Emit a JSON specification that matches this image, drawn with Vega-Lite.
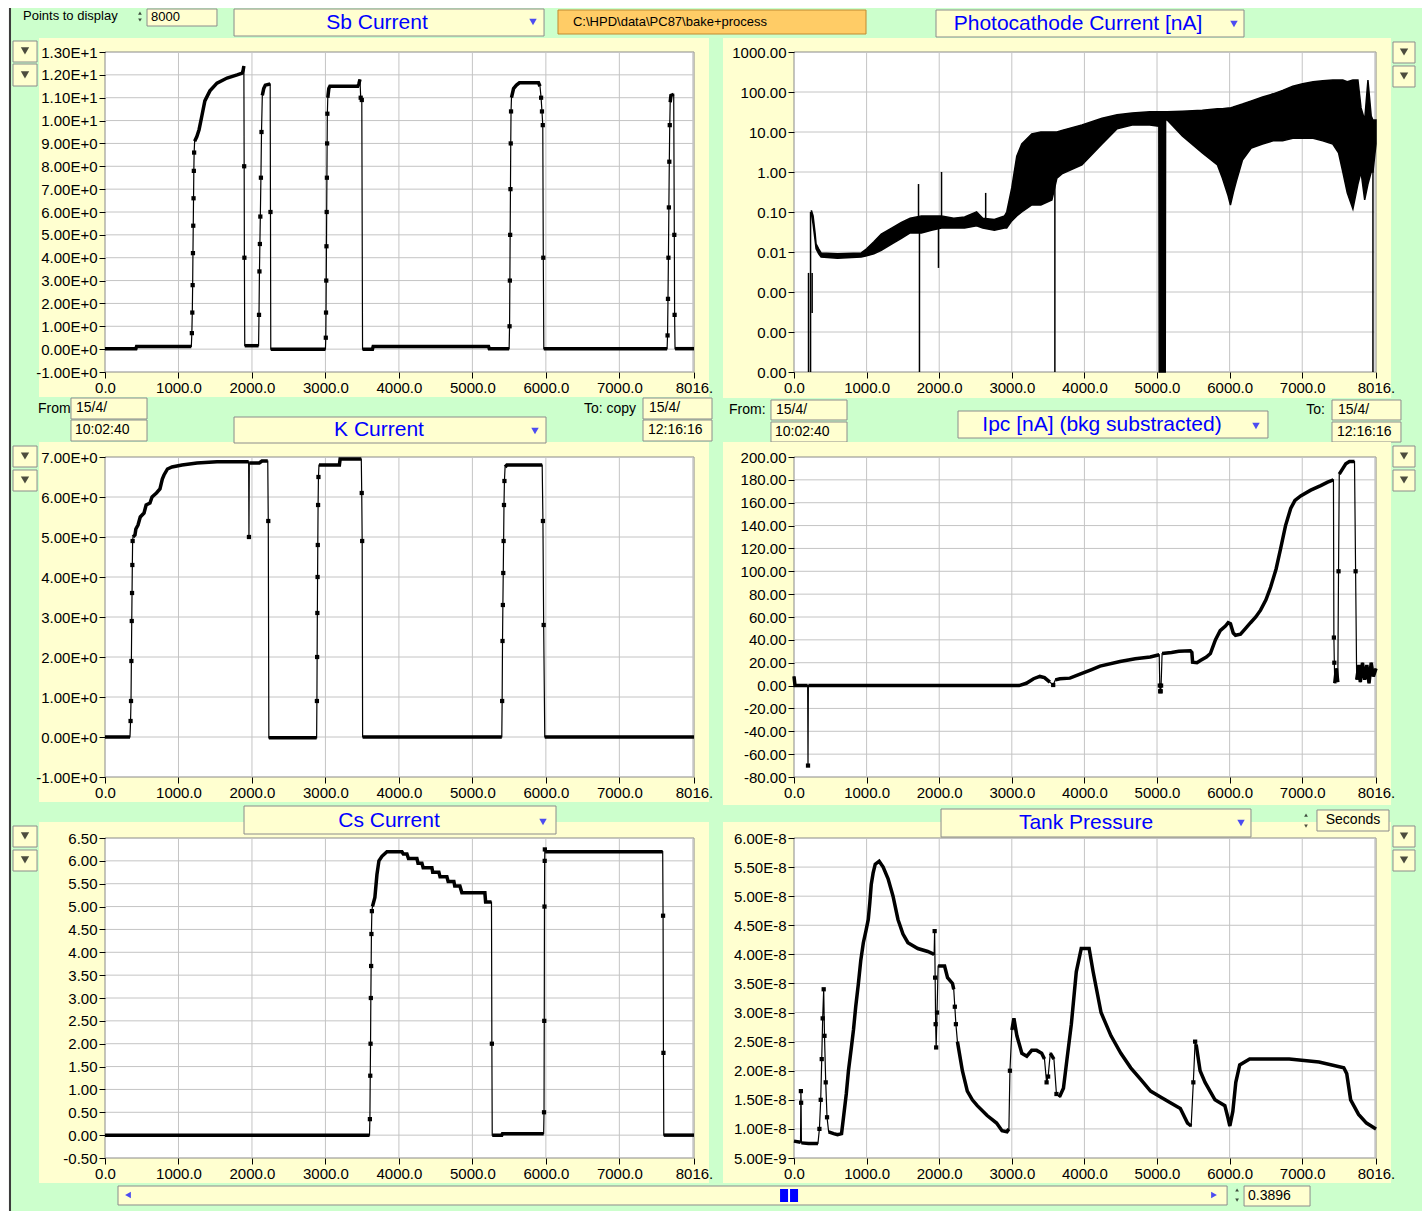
{
  "$schema": "https://vega.github.io/schema/vega-lite/v6.json",
  "background": "white",
  "padding": {"left": 8, "top": 8, "right": 0, "bottom": 0},
  "autosize": {"type": "pad"},
  "config": {
    "view": {"stroke": null},
    "axis": {"grid": false, "domain": false, "labelFont": "Liberation Sans", "labelFontSize": 15, "labelColor": "#000000", "tickColor": "#000000", "tickSize": 6, "tickWidth": 1, "labelPadding": 2, "labelOverlap": false, "labelFlush": false, "labelBound": false},
    "text": {"font": "Liberation Sans"}
  },
  "datasets": {
    "gx": [{"g":1000},{"g":2000},{"g":3000},{"g":4000},{"g":5000},{"g":6000},{"g":7000},{"g":8000}],
    "gy_sb": [{"g":0},{"g":1},{"g":2},{"g":3},{"g":4},{"g":5},{"g":6},{"g":7},{"g":8},{"g":9},{"g":10},{"g":11},{"g":12}],
    "gy_k": [{"g":0},{"g":1},{"g":2},{"g":3},{"g":4},{"g":5},{"g":6}],
    "gy_cs": [{"g":0},{"g":0.5},{"g":1},{"g":1.5},{"g":2},{"g":2.5},{"g":3},{"g":3.5},{"g":4},{"g":4.5},{"g":5},{"g":5.5},{"g":6}],
    "gy_ipc": [{"g":-60},{"g":-40},{"g":-20},{"g":0},{"g":20},{"g":40},{"g":60},{"g":80},{"g":100},{"g":120},{"g":140},{"g":160},{"g":180}],
    "gy_pc": [{"g":0.0001},{"g":0.001},{"g":0.01},{"g":0.1},{"g":1},{"g":10},{"g":100}],
    "gy_tank": [{"g":1e-8},{"g":1.5e-8},{"g":2e-8},{"g":2.5e-8},{"g":3e-8},{"g":3.5e-8},{"g":4e-8},{"g":4.5e-8},{"g":5e-8},{"g":5.5e-8}],
    "sb": [
      {"t":0,"v":0.02,"step":0},{"t":420,"v":0.02,"step":0},{"t":430,"v":0.12,"step":0},{"t":1175,"v":0.12,"step":0},
      {"t":1182,"v":0.7},{"t":1188,"v":1.6},{"t":1193,"v":2.8},{"t":1197,"v":4.2},{"t":1201,"v":5.4},{"t":1205,"v":6.6},{"t":1209,"v":7.8},{"t":1213,"v":8.6},
      {"t":1220,"v":9.1,"step":1},{"t":1250,"v":9.3,"step":1},{"t":1280,"v":9.6,"step":1},{"t":1318,"v":10.2,"step":1},{"t":1359,"v":10.86,"step":1},{"t":1428,"v":11.3,"step":1},{"t":1524,"v":11.64,"step":1},{"t":1661,"v":11.86,"step":1},{"t":1798,"v":12.0,"step":1},{"t":1867,"v":12.08,"step":1},{"t":1880,"v":12.2,"step":1},{"t":1890,"v":12.39,"step":1},
      {"t":1894,"v":8.0},{"t":1897,"v":4.0},
      {"t":1902,"v":0.15,"step":2},{"t":2090,"v":0.15,"step":2},
      {"t":2096,"v":1.5},{"t":2102,"v":3.4},{"t":2108,"v":4.6},{"t":2114,"v":5.8},{"t":2122,"v":7.5},{"t":2130,"v":9.5},
      {"t":2141,"v":11.1,"step":3},{"t":2160,"v":11.4,"step":3},{"t":2182,"v":11.55,"step":3},{"t":2248,"v":11.6,"step":3},
      {"t":2252,"v":6.0},
      {"t":2256,"v":0.0,"step":4},{"t":3000,"v":0.0,"step":4},
      {"t":3005,"v":0.5},{"t":3008,"v":1.6},{"t":3011,"v":3.0},{"t":3014,"v":4.5},{"t":3017,"v":6.0},{"t":3020,"v":7.5},{"t":3023,"v":9.0},{"t":3026,"v":10.3},
      {"t":3032,"v":11.0,"step":5},{"t":3046,"v":11.4,"step":5},{"t":3061,"v":11.5,"step":5},{"t":3440,"v":11.5,"step":5},{"t":3455,"v":11.6,"step":5},{"t":3470,"v":11.8,"step":5},
      {"t":3480,"v":11.0},{"t":3495,"v":10.9},
      {"t":3505,"v":0.0,"step":6},{"t":3640,"v":0.0,"step":6},{"t":3650,"v":0.12,"step":6},{"t":5220,"v":0.12,"step":6},{"t":5230,"v":0.02,"step":6},{"t":5500,"v":0.02,"step":6},
      {"t":5506,"v":1.0},{"t":5510,"v":3.0},{"t":5514,"v":5.0},{"t":5518,"v":7.0},{"t":5522,"v":9.0},{"t":5526,"v":10.4},
      {"t":5532,"v":11.0,"step":7},{"t":5560,"v":11.4,"step":7},{"t":5600,"v":11.55,"step":7},{"t":5640,"v":11.65,"step":7},{"t":5900,"v":11.65,"step":7},{"t":5920,"v":11.5,"step":7},
      {"t":5935,"v":11.0},{"t":5947,"v":10.4},{"t":5958,"v":9.8},{"t":5965,"v":4.0},
      {"t":5972,"v":0.02,"step":8},{"t":7650,"v":0.02,"step":8},
      {"t":7656,"v":0.6},{"t":7662,"v":2.2},{"t":7668,"v":4.0},{"t":7674,"v":6.2},{"t":7680,"v":8.2},{"t":7686,"v":9.8},
      {"t":7692,"v":10.8,"step":9},{"t":7702,"v":11.1,"step":9},{"t":7740,"v":11.15,"step":9},
      {"t":7748,"v":5.0},{"t":7752,"v":1.5},
      {"t":7758,"v":0.02,"step":10},{"t":8016,"v":0.02,"step":10}
    ],
    "k": [
      {"t":0,"v":0.0,"step":0},{"t":340,"v":0.0,"step":0},
      {"t":348,"v":0.4},{"t":354,"v":0.9},{"t":359,"v":1.9},{"t":364,"v":2.9},{"t":368,"v":3.6},{"t":372,"v":4.3},{"t":376,"v":4.9},
      {"t":381,"v":5.0,"step":1},{"t":408,"v":5.05,"step":1},{"t":420,"v":5.2,"step":1},{"t":449,"v":5.3,"step":1},{"t":480,"v":5.5,"step":1},{"t":531,"v":5.6,"step":1},{"t":560,"v":5.8,"step":1},{"t":612,"v":5.85,"step":1},{"t":640,"v":6.0,"step":1},{"t":700,"v":6.1,"step":1},{"t":748,"v":6.2,"step":1},{"t":780,"v":6.45,"step":1},{"t":803,"v":6.55,"step":1},{"t":850,"v":6.7,"step":1},{"t":912,"v":6.75,"step":1},{"t":1048,"v":6.8,"step":1},{"t":1252,"v":6.85,"step":1},{"t":1524,"v":6.88,"step":1},{"t":1955,"v":6.88,"step":1},
      {"t":1959,"v":5.0},
      {"t":1964,"v":6.85,"step":2},{"t":2100,"v":6.85,"step":2},{"t":2136,"v":6.9,"step":2},{"t":2215,"v":6.9,"step":2},
      {"t":2222,"v":5.4},
      {"t":2230,"v":-0.02,"step":3},{"t":2880,"v":-0.02,"step":3},
      {"t":2884,"v":0.9},{"t":2887,"v":2.0},{"t":2890,"v":3.1},{"t":2893,"v":4.0},{"t":2896,"v":4.8},{"t":2900,"v":5.8},{"t":2905,"v":6.5},
      {"t":2912,"v":6.8,"step":4},{"t":3190,"v":6.8,"step":4},{"t":3200,"v":6.95,"step":4},{"t":3488,"v":6.95,"step":4},
      {"t":3494,"v":6.1},{"t":3500,"v":4.9},
      {"t":3506,"v":0.0,"step":5},{"t":5400,"v":0.0,"step":5},
      {"t":5405,"v":0.9},{"t":5410,"v":2.4},{"t":5415,"v":3.3},{"t":5420,"v":4.1},{"t":5425,"v":4.9},{"t":5430,"v":5.8},{"t":5436,"v":6.4},
      {"t":5445,"v":6.75,"step":6},{"t":5470,"v":6.8,"step":6},{"t":5950,"v":6.8,"step":6},
      {"t":5960,"v":5.4},{"t":5970,"v":2.8},
      {"t":5985,"v":0.0,"step":7},{"t":8016,"v":0.0,"step":7}
    ],
    "cs": [
      {"t":0,"v":0.0,"step":0},{"t":3600,"v":0.0,"step":0},
      {"t":3605,"v":0.35},{"t":3610,"v":1.3},{"t":3614,"v":2.0},{"t":3618,"v":3.0},{"t":3622,"v":3.7},{"t":3626,"v":4.4},{"t":3632,"v":4.9},
      {"t":3640,"v":5.0,"step":1},{"t":3673,"v":5.2,"step":1},{"t":3701,"v":5.7,"step":1},{"t":3728,"v":6.0,"step":1},{"t":3769,"v":6.1,"step":1},{"t":3837,"v":6.2,"step":1},{"t":4041,"v":6.2,"step":1},{"t":4060,"v":6.15,"step":1},{"t":4109,"v":6.15,"step":1},{"t":4130,"v":6.05,"step":1},{"t":4245,"v":6.05,"step":1},{"t":4260,"v":5.95,"step":1},{"t":4313,"v":5.95,"step":1},{"t":4330,"v":5.85,"step":1},{"t":4449,"v":5.85,"step":1},{"t":4460,"v":5.75,"step":1},{"t":4544,"v":5.75,"step":1},{"t":4560,"v":5.65,"step":1},{"t":4653,"v":5.65,"step":1},{"t":4670,"v":5.55,"step":1},{"t":4748,"v":5.55,"step":1},{"t":4760,"v":5.45,"step":1},{"t":4830,"v":5.45,"step":1},{"t":4857,"v":5.3,"step":1},{"t":5170,"v":5.3,"step":1},{"t":5180,"v":5.1,"step":1},{"t":5260,"v":5.1,"step":1},
      {"t":5265,"v":2.0},
      {"t":5270,"v":0.0,"step":2},{"t":5400,"v":0.0,"step":2},{"t":5410,"v":0.03,"step":2},{"t":5970,"v":0.03,"step":2},
      {"t":5975,"v":0.5},{"t":5978,"v":2.5},{"t":5981,"v":5.0},{"t":5984,"v":6.0},{"t":5986,"v":6.25},
      {"t":5990,"v":6.2,"step":3},{"t":7590,"v":6.2,"step":3},
      {"t":7595,"v":4.8},{"t":7600,"v":1.8},
      {"t":7605,"v":0.0,"step":4},{"t":8016,"v":0.0,"step":4}
    ],
    "ipc": [
      {"t":0,"v":8.0,"step":0},{"t":14,"v":0.0,"step":0},{"t":188,"v":0.0,"step":0},
      {"t":193,"v":-70.0},
      {"t":198,"v":0.0,"step":1},{"t":3100,"v":0.0,"step":1},{"t":3200,"v":2.0,"step":1},{"t":3300,"v":6.0,"step":1},{"t":3386,"v":8.0,"step":1},{"t":3450,"v":7.0,"step":1},{"t":3524,"v":3.0,"step":1},
      {"t":3570,"v":0.5},
      {"t":3600,"v":5.0,"step":2},{"t":3662,"v":6.0,"step":2},{"t":3800,"v":6.5,"step":2},{"t":3939,"v":10.0,"step":2},{"t":4100,"v":14.0,"step":2},{"t":4215,"v":17.0,"step":2},{"t":4491,"v":21.0,"step":2},{"t":4700,"v":23.5,"step":2},{"t":4906,"v":25.0,"step":2},{"t":5030,"v":27.0,"step":2},
      {"t":5038,"v":0.0},{"t":5044,"v":-5.0},{"t":5050,"v":-5.0},{"t":5056,"v":0.0},
      {"t":5070,"v":28.0,"step":3},{"t":5200,"v":29.0,"step":3},{"t":5300,"v":30.0,"step":3},{"t":5459,"v":30.5,"step":3},{"t":5480,"v":29.0,"step":3},{"t":5490,"v":20.5,"step":3},{"t":5550,"v":20.0,"step":3},{"t":5597,"v":22.0,"step":3},{"t":5680,"v":25.0,"step":3},{"t":5735,"v":28.0,"step":3},{"t":5804,"v":40.0,"step":3},{"t":5870,"v":48.0,"step":3},{"t":5942,"v":52.0,"step":3},{"t":5980,"v":55.0,"step":3},{"t":6012,"v":54.0,"step":3},{"t":6050,"v":46.0,"step":3},{"t":6081,"v":44.0,"step":3},{"t":6150,"v":45.0,"step":3},{"t":6220,"v":50.0,"step":3},{"t":6288,"v":55.0,"step":3},{"t":6360,"v":60.0,"step":3},{"t":6426,"v":66.0,"step":3},{"t":6500,"v":75.0,"step":3},{"t":6564,"v":86.0,"step":3},{"t":6640,"v":102.0,"step":3},{"t":6703,"v":120.0,"step":3},{"t":6770,"v":140.0,"step":3},{"t":6841,"v":155.0,"step":3},{"t":6900,"v":162.0,"step":3},{"t":6979,"v":166.0,"step":3},{"t":7117,"v":171.0,"step":3},{"t":7255,"v":175.0,"step":3},{"t":7350,"v":178.0,"step":3},{"t":7430,"v":180.0,"step":3},
      {"t":7436,"v":42.0},{"t":7442,"v":20.0},
      {"t":7448,"v":2.0,"step":4},{"t":7470,"v":15.0,"step":4},{"t":7490,"v":3.0,"step":4},
      {"t":7500,"v":100.0},
      {"t":7510,"v":185.0,"step":5},{"t":7560,"v":190.0,"step":5},{"t":7600,"v":194.0,"step":5},{"t":7650,"v":196.0,"step":5},{"t":7720,"v":196.0,"step":5},
      {"t":7735,"v":100.0},
      {"t":7750,"v":5.0,"step":6},{"t":7780,"v":18.0,"step":6},{"t":7800,"v":3.0,"step":6},{"t":7830,"v":20.0,"step":6},{"t":7860,"v":5.0,"step":6},{"t":7890,"v":18.0,"step":6},{"t":7920,"v":2.0,"step":6},{"t":7950,"v":20.0,"step":6},{"t":7980,"v":8.0,"step":6},{"t":8016,"v":15.0,"step":6}
    ],
    "tank": [
      {"t":0,"v":7.9e-9,"step":0},{"t":90,"v":7.7e-9,"step":0},
      {"t":95,"v":1.65e-8},{"t":98,"v":1.45e-8},
      {"t":102,"v":7.6e-9,"step":1},{"t":200,"v":7.5e-9,"step":1},{"t":330,"v":7.5e-9,"step":1},
      {"t":350,"v":1.0e-8},{"t":368,"v":1.5e-8},{"t":382,"v":2.2e-8},{"t":395,"v":2.9e-8},{"t":409,"v":3.4e-8},{"t":420,"v":2.6e-8},{"t":437,"v":1.8e-8},{"t":455,"v":1.2e-8},
      {"t":477,"v":9.5e-9,"step":2},{"t":546,"v":9.2e-9,"step":2},{"t":600,"v":9.0e-9,"step":2},{"t":655,"v":9.2e-9,"step":2},{"t":682,"v":1.2e-8,"step":2},{"t":720,"v":1.6e-8,"step":2},{"t":750,"v":2.0e-8,"step":2},{"t":790,"v":2.4e-8,"step":2},{"t":819,"v":2.7e-8,"step":2},{"t":850,"v":3.1e-8,"step":2},{"t":887,"v":3.5e-8,"step":2},{"t":920,"v":3.9e-8,"step":2},{"t":955,"v":4.2e-8,"step":2},{"t":990,"v":4.4e-8,"step":2},{"t":1023,"v":4.6e-8,"step":2},{"t":1045,"v":4.9e-8,"step":2},{"t":1064,"v":5.2e-8,"step":2},{"t":1090,"v":5.4e-8,"step":2},{"t":1119,"v":5.55e-8,"step":2},{"t":1173,"v":5.6e-8,"step":2},{"t":1228,"v":5.5e-8,"step":2},{"t":1296,"v":5.3e-8,"step":2},{"t":1364,"v":5.0e-8,"step":2},{"t":1432,"v":4.6e-8,"step":2},{"t":1501,"v":4.35e-8,"step":2},{"t":1569,"v":4.2e-8,"step":2},{"t":1705,"v":4.1e-8,"step":2},{"t":1842,"v":4.05e-8,"step":2},{"t":1930,"v":4.0e-8,"step":2},
      {"t":1937,"v":4.4e-8},{"t":1944,"v":3.6e-8},{"t":1951,"v":2.8e-8},{"t":1958,"v":2.4e-8},{"t":1970,"v":3.0e-8},
      {"t":1985,"v":3.8e-8,"step":3},{"t":2074,"v":3.8e-8,"step":3},{"t":2115,"v":3.6e-8,"step":3},{"t":2183,"v":3.5e-8,"step":3},{"t":2200,"v":3.4e-8,"step":3},
      {"t":2215,"v":3.1e-8},{"t":2230,"v":2.8e-8},
      {"t":2251,"v":2.5e-8,"step":4},{"t":2319,"v":2.0e-8,"step":4},{"t":2387,"v":1.65e-8,"step":4},{"t":2456,"v":1.5e-8,"step":4},{"t":2524,"v":1.4e-8,"step":4},{"t":2660,"v":1.23e-8,"step":4},{"t":2790,"v":1.1e-8,"step":4},{"t":2865,"v":9.7e-9,"step":4},{"t":2933,"v":9.5e-9,"step":4},{"t":2960,"v":1.0e-8,"step":4},
      {"t":2974,"v":2.0e-8},
      {"t":3001,"v":2.7e-8,"step":5},{"t":3029,"v":2.9e-8,"step":5},{"t":3070,"v":2.6e-8,"step":5},{"t":3138,"v":2.3e-8,"step":5},{"t":3206,"v":2.25e-8,"step":5},{"t":3274,"v":2.35e-8,"step":5},{"t":3342,"v":2.35e-8,"step":5},{"t":3411,"v":2.3e-8,"step":5},{"t":3450,"v":2.2e-8,"step":5},
      {"t":3479,"v":1.8e-8},{"t":3500,"v":1.9e-8},
      {"t":3530,"v":2.3e-8,"step":6},{"t":3580,"v":2.2e-8,"step":6},
      {"t":3615,"v":1.6e-8},
      {"t":3656,"v":1.55e-8,"step":7},{"t":3711,"v":1.7e-8,"step":7},{"t":3760,"v":2.2e-8,"step":7},{"t":3820,"v":2.8e-8,"step":7},{"t":3888,"v":3.7e-8,"step":7},{"t":3956,"v":4.1e-8,"step":7},{"t":4065,"v":4.1e-8,"step":7},{"t":4120,"v":3.7e-8,"step":7},{"t":4229,"v":3.0e-8,"step":7},{"t":4366,"v":2.6e-8,"step":7},{"t":4502,"v":2.3e-8,"step":7},{"t":4638,"v":2.05e-8,"step":7},{"t":4775,"v":1.85e-8,"step":7},{"t":4911,"v":1.65e-8,"step":7},{"t":5048,"v":1.55e-8,"step":7},{"t":5184,"v":1.45e-8,"step":7},{"t":5321,"v":1.35e-8,"step":7},{"t":5420,"v":1.1e-8,"step":7},{"t":5470,"v":1.05e-8,"step":7},
      {"t":5500,"v":1.8e-8},{"t":5525,"v":2.5e-8},
      {"t":5539,"v":2.45e-8,"step":8},{"t":5593,"v":2.0e-8,"step":8},{"t":5662,"v":1.8e-8,"step":8},{"t":5730,"v":1.65e-8,"step":8},{"t":5798,"v":1.5e-8,"step":8},{"t":5934,"v":1.4e-8,"step":8},{"t":5975,"v":1.2e-8,"step":8},{"t":6003,"v":1.05e-8,"step":8},{"t":6044,"v":1.3e-8,"step":8},{"t":6085,"v":1.8e-8,"step":8},{"t":6139,"v":2.1e-8,"step":8},{"t":6276,"v":2.2e-8,"step":8},{"t":6821,"v":2.2e-8,"step":8},{"t":7231,"v":2.15e-8,"step":8},{"t":7572,"v":2.05e-8,"step":8},{"t":7613,"v":1.95e-8,"step":8},{"t":7667,"v":1.5e-8,"step":8},{"t":7776,"v":1.25e-8,"step":8},{"t":7885,"v":1.1e-8,"step":8},{"t":8016,"v":1.0e-8,"step":8}
    ],
    "pc_band": [
      {"t":240,"lo":0.09,"hi":0.11},{"t":263,"lo":0.05,"hi":0.08},{"t":290,"lo":0.02,"hi":0.03},{"t":304,"lo":0.012,"hi":0.016},{"t":340,"lo":0.009,"hi":0.012},{"t":373,"lo":0.0075,"hi":0.0095},{"t":600,"lo":0.007,"hi":0.009},{"t":926,"lo":0.0075,"hi":0.0095},{"t":1000,"lo":0.008,"hi":0.012},{"t":1100,"lo":0.009,"hi":0.018},{"t":1202,"lo":0.011,"hi":0.028},{"t":1350,"lo":0.016,"hi":0.04},{"t":1479,"lo":0.022,"hi":0.055},{"t":1600,"lo":0.03,"hi":0.07},{"t":1755,"lo":0.03,"hi":0.08},{"t":1893,"lo":0.035,"hi":0.08},{"t":2032,"lo":0.04,"hi":0.08},{"t":2200,"lo":0.04,"hi":0.07},{"t":2350,"lo":0.04,"hi":0.075},{"t":2515,"lo":0.045,"hi":0.1},{"t":2600,"lo":0.04,"hi":0.07},{"t":2760,"lo":0.035,"hi":0.065},{"t":2900,"lo":0.04,"hi":0.08},{"t":2930,"lo":0.04,"hi":0.1},{"t":2999,"lo":0.06,"hi":0.4},{"t":3068,"lo":0.08,"hi":2.5},{"t":3137,"lo":0.1,"hi":5},{"t":3275,"lo":0.15,"hi":9},{"t":3400,"lo":0.15,"hi":10},{"t":3552,"lo":0.2,"hi":10},{"t":3621,"lo":0.7,"hi":10},{"t":3690,"lo":0.9,"hi":11},{"t":3966,"lo":1.5,"hi":15},{"t":4243,"lo":5,"hi":22},{"t":4450,"lo":12,"hi":27},{"t":4657,"lo":15,"hi":30},{"t":4900,"lo":15,"hi":32},{"t":5025,"lo":14,"hi":32},{"t":5030,"lo":0.00001,"hi":32},{"t":5113,"lo":0.00001,"hi":32},{"t":5118,"lo":20,"hi":32},{"t":5140,"lo":20,"hi":32},{"t":5348,"lo":8,"hi":33},{"t":5624,"lo":3,"hi":35},{"t":5832,"lo":1.5,"hi":38},{"t":5901,"lo":0.7,"hi":38},{"t":5980,"lo":0.25,"hi":40},{"t":6011,"lo":0.15,"hi":40},{"t":6050,"lo":0.3,"hi":42},{"t":6094,"lo":0.6,"hi":45},{"t":6177,"lo":2,"hi":50},{"t":6300,"lo":4,"hi":60},{"t":6454,"lo":5,"hi":75},{"t":6600,"lo":6,"hi":90},{"t":6730,"lo":6,"hi":110},{"t":6870,"lo":7,"hi":140},{"t":7006,"lo":7,"hi":160},{"t":7150,"lo":7,"hi":180},{"t":7283,"lo":6,"hi":190},{"t":7421,"lo":5,"hi":200},{"t":7500,"lo":3,"hi":200},{"t":7559,"lo":1,"hi":200},{"t":7620,"lo":0.3,"hi":180},{"t":7698,"lo":0.12,"hi":200},{"t":7767,"lo":0.5,"hi":200},{"t":7810,"lo":1,"hi":40},{"t":7860,"lo":0.2,"hi":20},{"t":7905,"lo":0.5,"hi":200},{"t":7950,"lo":1,"hi":25},{"t":7974,"lo":1,"hi":20},{"t":8016,"lo":5,"hi":20}
    ],
    "pc_spikes": [
      {"t":200,"lo":0.00001,"hi":0.003},{"t":228,"lo":0.00001,"hi":0.1},{"t":250,"lo":0.0003,"hi":0.003},{"t":1715,"lo":0.03,"hi":0.5},{"t":1728,"lo":0.00001,"hi":0.05},{"t":1990,"lo":0.004,"hi":0.04},{"t":2032,"lo":0.05,"hi":1.0},{"t":2640,"lo":0.06,"hi":0.3},{"t":3593,"lo":0.00001,"hi":10},{"t":7974,"lo":0.00001,"hi":20}
    ]
  },
  "spacing": 405,
  "bounds": "flush",
  "vconcat": [
    {
      "spacing": 100,
      "bounds": "flush",
      "hconcat": [
        {
          "width": 589,
          "height": 320,
          "layer": [
            {"data": {"values": [{}]}, "mark": {"type": "rect", "fill": "#ccffcc"}, "encoding": {"x": {"datum": -1307, "type": "quantitative"}, "x2": {"datum": 17938}, "y": {"datum": 14.925, "type": "quantitative"}, "y2": {"datum": -37.706}}},
            {"data": {"values": [{}]}, "mark": {"type": "rect", "fill": "#3c3c3c"}, "encoding": {"x": {"datum": -1307, "type": "quantitative"}, "x2": {"datum": -1279}, "y": {"datum": 14.925, "type": "quantitative"}, "y2": {"datum": -37.706}}},
            {"data": {"values": [{}]}, "mark": {"type": "rect", "fill": "#ffffd0"}, "encoding": {"x": {"datum": -898, "type": "quantitative"}, "x2": {"datum": 8220}, "y": {"datum": 13.6125, "type": "quantitative"}, "y2": {"datum": -2.094}}},
            {"data": {"values": [{}]}, "mark": {"type": "rect", "fill": "#ffffd0", "stroke": "#8c8c8c", "strokeWidth": 1}, "encoding": {"x": {"datum": 1756, "type": "quantitative"}, "x2": {"datum": 5975}, "y": {"datum": 14.881, "type": "quantitative"}, "y2": {"datum": 13.7}}},
            {"data": {"values": [{}]}, "mark": {"type": "text", "text": "Sb Current", "fontSize": 21, "color": "#0000ff", "align": "center", "baseline": "middle"}, "encoding": {"x": {"datum": 3702, "type": "quantitative"}, "y": {"datum": 14.269, "type": "quantitative"}}},
            {"data": {"values": [{}]}, "mark": {"type": "point", "shape": "triangle-down", "size": 55, "filled": true, "color": "#0000ff"}, "encoding": {"x": {"datum": 5825, "type": "quantitative"}, "y": {"datum": 14.3125, "type": "quantitative"}}},
            {"data": {"values": [{}]}, "mark": {"type": "rect", "fill": "#ffcc66", "stroke": "#c08a30", "strokeWidth": 1}, "encoding": {"x": {"datum": 6165, "type": "quantitative"}, "x2": {"datum": 10357}, "y": {"datum": 14.8375, "type": "quantitative"}, "y2": {"datum": 13.7875}}},
            {"data": {"values": [{}]}, "mark": {"type": "text", "text": "C:\\HPD\\data\\PC87\\bake+process", "fontSize": 13, "color": "#000000", "align": "left", "baseline": "middle"}, "encoding": {"x": {"datum": 6369, "type": "quantitative"}, "y": {"datum": 14.3125, "type": "quantitative"}}},
            {"data": {"values": [{}]}, "mark": {"type": "text", "text": "Points to display", "fontSize": 13, "color": "#000000", "align": "left", "baseline": "middle"}, "encoding": {"x": {"datum": -1116, "type": "quantitative"}, "y": {"datum": 14.575, "type": "quantitative"}}},
            {"data": {"values": [{}]}, "mark": {"type": "point", "shape": "triangle-up", "size": 14, "filled": true, "color": "#000000"}, "encoding": {"x": {"datum": 476, "type": "quantitative"}, "y": {"datum": 14.706, "type": "quantitative"}}},
            {"data": {"values": [{}]}, "mark": {"type": "point", "shape": "triangle-down", "size": 14, "filled": true, "color": "#000000"}, "encoding": {"x": {"datum": 476, "type": "quantitative"}, "y": {"datum": 14.4, "type": "quantitative"}}},
            {"data": {"values": [{}]}, "mark": {"type": "rect", "fill": "#ffffd0", "stroke": "#8c8c8c", "strokeWidth": 1}, "encoding": {"x": {"datum": 572, "type": "quantitative"}, "x2": {"datum": 1524}, "y": {"datum": 14.881, "type": "quantitative"}, "y2": {"datum": 14.1375}}},
            {"data": {"values": [{}]}, "mark": {"type": "text", "text": "8000", "fontSize": 13, "color": "#000000", "align": "left", "baseline": "middle"}, "encoding": {"x": {"datum": 626, "type": "quantitative"}, "y": {"datum": 14.53, "type": "quantitative"}}},
            {"data": {"values": [{}]}, "mark": {"type": "rect", "fill": "#ffffd0", "stroke": "#8c8c8c", "strokeWidth": 1}, "encoding": {"x": {"datum": -1252, "type": "quantitative"}, "x2": {"datum": -925}, "y": {"datum": 13.481, "type": "quantitative"}, "y2": {"datum": 12.5625}}},
            {"data": {"values": [{}]}, "mark": {"type": "rect", "fill": "#ffffd0", "stroke": "#8c8c8c", "strokeWidth": 1}, "encoding": {"x": {"datum": -1252, "type": "quantitative"}, "x2": {"datum": -925}, "y": {"datum": 12.475, "type": "quantitative"}, "y2": {"datum": 11.5125}}},
            {"data": {"values": [{}]}, "mark": {"type": "point", "shape": "triangle-down", "size": 70, "filled": true, "color": "#000000"}, "encoding": {"x": {"datum": -1089, "type": "quantitative"}, "y": {"datum": 13.044, "type": "quantitative"}}},
            {"data": {"values": [{}]}, "mark": {"type": "point", "shape": "triangle-down", "size": 70, "filled": true, "color": "#000000"}, "encoding": {"x": {"datum": -1089, "type": "quantitative"}, "y": {"datum": 11.994, "type": "quantitative"}}},
            {"data": {"values": [{}]}, "mark": {"type": "text", "text": "From:", "fontSize": 14, "color": "#000000", "align": "left", "baseline": "middle"}, "encoding": {"x": {"datum": -912, "type": "quantitative"}, "y": {"datum": -2.619, "type": "quantitative"}}},
            {"data": {"values": [{}]}, "mark": {"type": "rect", "fill": "#ffffd0", "stroke": "#8c8c8c", "strokeWidth": 1}, "encoding": {"x": {"datum": -463, "type": "quantitative"}, "x2": {"datum": 572}, "y": {"datum": -2.1375, "type": "quantitative"}, "y2": {"datum": -3.056}}},
            {"data": {"values": [{}]}, "mark": {"type": "text", "text": "15/4/", "fontSize": 14, "color": "#000000", "align": "left", "baseline": "middle"}, "encoding": {"x": {"datum": -395, "type": "quantitative"}, "y": {"datum": -2.575, "type": "quantitative"}}},
            {"data": {"values": [{}]}, "mark": {"type": "rect", "fill": "#ffffd0", "stroke": "#8c8c8c", "strokeWidth": 1}, "encoding": {"x": {"datum": -463, "type": "quantitative"}, "x2": {"datum": 572}, "y": {"datum": -3.1, "type": "quantitative"}, "y2": {"datum": -4.019}}},
            {"data": {"values": [{}]}, "mark": {"type": "text", "text": "10:02:40", "fontSize": 14, "color": "#000000", "align": "left", "baseline": "middle"}, "encoding": {"x": {"datum": -408, "type": "quantitative"}, "y": {"datum": -3.5375, "type": "quantitative"}}},
            {"data": {"values": [{}]}, "mark": {"type": "text", "text": "To: copy", "fontSize": 14, "color": "#000000", "align": "right", "baseline": "middle"}, "encoding": {"x": {"datum": 7227, "type": "quantitative"}, "y": {"datum": -2.619, "type": "quantitative"}}},
            {"data": {"values": [{}]}, "mark": {"type": "rect", "fill": "#ffffd0", "stroke": "#8c8c8c", "strokeWidth": 1}, "encoding": {"x": {"datum": 7322, "type": "quantitative"}, "x2": {"datum": 8261}, "y": {"datum": -2.1375, "type": "quantitative"}, "y2": {"datum": -3.056}}},
            {"data": {"values": [{}]}, "mark": {"type": "text", "text": "15/4/", "fontSize": 14, "color": "#000000", "align": "left", "baseline": "middle"}, "encoding": {"x": {"datum": 7404, "type": "quantitative"}, "y": {"datum": -2.575, "type": "quantitative"}}},
            {"data": {"values": [{}]}, "mark": {"type": "rect", "fill": "#ffffd0", "stroke": "#8c8c8c", "strokeWidth": 1}, "encoding": {"x": {"datum": 7322, "type": "quantitative"}, "x2": {"datum": 8261}, "y": {"datum": -3.1, "type": "quantitative"}, "y2": {"datum": -4.019}}},
            {"data": {"values": [{}]}, "mark": {"type": "text", "text": "12:16:16", "fontSize": 14, "color": "#000000", "align": "left", "baseline": "middle"}, "encoding": {"x": {"datum": 7390, "type": "quantitative"}, "y": {"datum": -3.5375, "type": "quantitative"}}},
            {"data": {"values": [{}]}, "mark": {"type": "rect", "fill": "#ffffff", "stroke": "#8a8a8a", "strokeWidth": 1}, "encoding": {"x": {"datum": 0, "type": "quantitative"}, "x2": {"datum": 8016}, "y": {"datum": -1, "type": "quantitative"}, "y2": {"datum": 13}}},
            {"data": {"name": "gx"}, "mark": {"type": "rule", "color": "#c4c4c4", "strokeWidth": 1}, "encoding": {"x": {"field": "g", "type": "quantitative"}}},
            {"data": {"name": "gy_sb"}, "mark": {"type": "rule", "color": "#c4c4c4", "strokeWidth": 1}, "encoding": {"y": {"field": "g", "type": "quantitative"}}},
            {"data": {"name": "sb"}, "mark": {"type": "line", "color": "#000000", "strokeWidth": 1.2},
             "encoding": {
               "x": {"field": "t", "type": "quantitative", "scale": {"domain": [0, 8016], "nice": false, "zero": false}, "axis": {"title": null, "zindex": 1, "tickCount": 100, "labelOverlap": false, "values": [0,1000,2000,3000,4000,5000,6000,7000,8016], "labelExpr": "datum.value >= 8016 ? '8016.' : format(datum.value, '.1f')"}},
               "y": {"field": "v", "type": "quantitative", "scale": {"domain": [-1, 13], "nice": false, "zero": false}, "axis": {"title": null, "zindex": 1, "tickCount": 100, "labelOverlap": false, "values": [13,12,11,10,9,8,7,6,5,4,3,2,1,0,-1], "labelExpr": "datum.value >= 10 ? format(datum.value / 10, '.2f') + 'E+1' : (datum.value < 0 ? '-' : '') + format(abs(datum.value), '.2f') + 'E+0'"}}
             }},
            {"data": {"name": "sb"}, "transform": [{"filter": "datum.step != null"}], "mark": {"type": "line", "color": "#000000", "strokeWidth": 3.5}, "encoding": {"x": {"field": "t", "type": "quantitative"}, "y": {"field": "v", "type": "quantitative"}, "detail": {"field": "step", "type": "nominal"}}},
            {"data": {"name": "sb"}, "transform": [{"filter": "datum.step == null"}], "mark": {"type": "square", "size": 18, "color": "#000000", "opacity": 1}, "encoding": {"x": {"field": "t", "type": "quantitative"}, "y": {"field": "v", "type": "quantitative"}}}
          ]
        },
        {
          "width": 582,
          "height": 320,
          "layer": [
            {"data": {"values": [{}]}, "mark": {"type": "rect", "fill": "#ffffd0"}, "encoding": {"x": {"datum": -978, "type": "quantitative"}, "x2": {"datum": 8223}, "y": {"datum": 2238.7, "type": "quantitative"}, "y2": {"datum": 0.0000022387}}},
            {"data": {"values": [{}]}, "mark": {"type": "rect", "fill": "#ffffd0", "stroke": "#8c8c8c", "strokeWidth": 1}, "encoding": {"x": {"datum": 1956, "type": "quantitative"}, "x2": {"datum": 6198}, "y": {"datum": 11220, "type": "quantitative"}, "y2": {"datum": 2371.4}}},
            {"data": {"values": [{}]}, "mark": {"type": "text", "text": "Photocathode Current [nA]", "fontSize": 21, "color": "#0000ff", "align": "center", "baseline": "middle"}, "encoding": {"x": {"datum": 3912, "type": "quantitative"}, "y": {"datum": 5011.9, "type": "quantitative"}}},
            {"data": {"values": [{}]}, "mark": {"type": "point", "shape": "triangle-down", "size": 55, "filled": true, "color": "#0000ff"}, "encoding": {"x": {"datum": 6060, "type": "quantitative"}, "y": {"datum": 5011.9, "type": "quantitative"}}},
            {"data": {"values": [{}]}, "mark": {"type": "rect", "fill": "#ffffd0", "stroke": "#8c8c8c", "strokeWidth": 1}, "encoding": {"x": {"datum": 8250, "type": "quantitative"}, "x2": {"datum": 8553}, "y": {"datum": 1778.3, "type": "quantitative"}, "y2": {"datum": 530.9}}},
            {"data": {"values": [{}]}, "mark": {"type": "rect", "fill": "#ffffd0", "stroke": "#8c8c8c", "strokeWidth": 1}, "encoding": {"x": {"datum": 8250, "type": "quantitative"}, "x2": {"datum": 8553}, "y": {"datum": 446.7, "type": "quantitative"}, "y2": {"datum": 133.4}}},
            {"data": {"values": [{}]}, "mark": {"type": "point", "shape": "triangle-down", "size": 70, "filled": true, "color": "#000000"}, "encoding": {"x": {"datum": 8402, "type": "quantitative"}, "y": {"datum": 1000, "type": "quantitative"}}},
            {"data": {"values": [{}]}, "mark": {"type": "point", "shape": "triangle-down", "size": 70, "filled": true, "color": "#000000"}, "encoding": {"x": {"datum": 8402, "type": "quantitative"}, "y": {"datum": 251.2, "type": "quantitative"}}},
            {"data": {"values": [{}]}, "mark": {"type": "text", "text": "From:", "fontSize": 14, "color": "#000000", "align": "left", "baseline": "middle"}, "encoding": {"x": {"datum": -895, "type": "quantitative"}, "y": {"datum": 0.000001122, "type": "quantitative"}}},
            {"data": {"values": [{}]}, "mark": {"type": "rect", "fill": "#ffffd0", "stroke": "#8c8c8c", "strokeWidth": 1}, "encoding": {"x": {"datum": -317, "type": "quantitative"}, "x2": {"datum": 730}, "y": {"datum": 0.000001995, "type": "quantitative"}, "y2": {"datum": 0.000000631}}},
            {"data": {"values": [{}]}, "mark": {"type": "text", "text": "15/4/", "fontSize": 14, "color": "#000000", "align": "left", "baseline": "middle"}, "encoding": {"x": {"datum": -248, "type": "quantitative"}, "y": {"datum": 0.000001122, "type": "quantitative"}}},
            {"data": {"values": [{}]}, "mark": {"type": "rect", "fill": "#ffffd0", "stroke": "#8c8c8c", "strokeWidth": 1}, "encoding": {"x": {"datum": -317, "type": "quantitative"}, "x2": {"datum": 730}, "y": {"datum": 0.0000005623, "type": "quantitative"}, "y2": {"datum": 0.0000001778}}},
            {"data": {"values": [{}]}, "mark": {"type": "text", "text": "10:02:40", "fontSize": 14, "color": "#000000", "align": "left", "baseline": "middle"}, "encoding": {"x": {"datum": -262, "type": "quantitative"}, "y": {"datum": 0.0000003162, "type": "quantitative"}}},
            {"data": {"values": [{}]}, "mark": {"type": "text", "text": "To:", "fontSize": 14, "color": "#000000", "align": "right", "baseline": "middle"}, "encoding": {"x": {"datum": 7313, "type": "quantitative"}, "y": {"datum": 0.000001122, "type": "quantitative"}}},
            {"data": {"values": [{}]}, "mark": {"type": "rect", "fill": "#ffffd0", "stroke": "#8c8c8c", "strokeWidth": 1}, "encoding": {"x": {"datum": 7410, "type": "quantitative"}, "x2": {"datum": 8360}, "y": {"datum": 0.000001995, "type": "quantitative"}, "y2": {"datum": 0.000000631}}},
            {"data": {"values": [{}]}, "mark": {"type": "text", "text": "15/4/", "fontSize": 14, "color": "#000000", "align": "left", "baseline": "middle"}, "encoding": {"x": {"datum": 7493, "type": "quantitative"}, "y": {"datum": 0.000001122, "type": "quantitative"}}},
            {"data": {"values": [{}]}, "mark": {"type": "rect", "fill": "#ffffd0", "stroke": "#8c8c8c", "strokeWidth": 1}, "encoding": {"x": {"datum": 7410, "type": "quantitative"}, "x2": {"datum": 8360}, "y": {"datum": 0.0000005623, "type": "quantitative"}, "y2": {"datum": 0.0000001778}}},
            {"data": {"values": [{}]}, "mark": {"type": "text", "text": "12:16:16", "fontSize": 14, "color": "#000000", "align": "left", "baseline": "middle"}, "encoding": {"x": {"datum": 7479, "type": "quantitative"}, "y": {"datum": 0.0000003162, "type": "quantitative"}}},
            {"data": {"values": [{}]}, "mark": {"type": "rect", "fill": "#ffffff", "stroke": "#8a8a8a", "strokeWidth": 1}, "encoding": {"x": {"datum": 0, "type": "quantitative"}, "x2": {"datum": 8016}, "y": {"datum": 0.00001, "type": "quantitative"}, "y2": {"datum": 1000}}},
            {"data": {"name": "gx"}, "mark": {"type": "rule", "color": "#c4c4c4", "strokeWidth": 1}, "encoding": {"x": {"field": "g", "type": "quantitative"}}},
            {"data": {"name": "gy_pc"}, "mark": {"type": "rule", "color": "#c4c4c4", "strokeWidth": 1}, "encoding": {"y": {"field": "g", "type": "quantitative"}}},
            {"data": {"name": "pc_band"}, "mark": {"type": "area", "color": "#000000", "stroke": "#000000", "strokeWidth": 1.5, "opacity": 1},
             "encoding": {
               "x": {"field": "t", "type": "quantitative", "scale": {"domain": [0, 8016], "nice": false, "zero": false}, "axis": {"title": null, "zindex": 1, "tickCount": 100, "labelOverlap": false, "values": [0,1000,2000,3000,4000,5000,6000,7000,8016], "labelExpr": "datum.value >= 8016 ? '8016.' : format(datum.value, '.1f')"}},
               "y": {"field": "hi", "type": "quantitative", "stack": null, "scale": {"type": "log", "domain": [0.00001, 1000], "nice": false}, "axis": {"title": null, "zindex": 1, "tickCount": 100, "labelOverlap": false, "values": [1000,100,10,1,0.1,0.01,0.001,0.0001,0.00001], "labelExpr": "format(datum.value, '.2f')"}},
               "y2": {"field": "lo"}
             }},
            {"data": {"name": "pc_spikes"}, "mark": {"type": "rule", "color": "#000000", "strokeWidth": 1.5}, "encoding": {"x": {"field": "t", "type": "quantitative"}, "y": {"field": "hi", "type": "quantitative"}, "y2": {"field": "lo"}}}
          ]
        }
      ]
    },
    {
      "spacing": 381,
      "bounds": "flush",
      "vconcat": [
        {
          "spacing": 100,
          "bounds": "flush",
          "hconcat": [
            {
              "width": 589,
              "height": 320,
              "layer": [
                {"data": {"values": [{}]}, "mark": {"type": "rect", "fill": "#ffffd0"}, "encoding": {"x": {"datum": -898, "type": "quantitative"}, "x2": {"datum": 8220}, "y": {"datum": 7.375, "type": "quantitative"}, "y2": {"datum": -1.625}}},
                {"data": {"values": [{}]}, "mark": {"type": "rect", "fill": "#ffffd0", "stroke": "#8c8c8c", "strokeWidth": 1}, "encoding": {"x": {"datum": 1756, "type": "quantitative"}, "x2": {"datum": 6002}, "y": {"datum": 8.0, "type": "quantitative"}, "y2": {"datum": 7.35}}},
                {"data": {"values": [{}]}, "mark": {"type": "text", "text": "K Current", "fontSize": 21, "color": "#0000ff", "align": "center", "baseline": "middle"}, "encoding": {"x": {"datum": 3729, "type": "quantitative"}, "y": {"datum": 7.675, "type": "quantitative"}}},
                {"data": {"values": [{}]}, "mark": {"type": "point", "shape": "triangle-down", "size": 55, "filled": true, "color": "#0000ff"}, "encoding": {"x": {"datum": 5852, "type": "quantitative"}, "y": {"datum": 7.65, "type": "quantitative"}}},
                {"data": {"values": [{}]}, "mark": {"type": "rect", "fill": "#ffffd0", "stroke": "#8c8c8c", "strokeWidth": 1}, "encoding": {"x": {"datum": -1252, "type": "quantitative"}, "x2": {"datum": -925}, "y": {"datum": 7.275, "type": "quantitative"}, "y2": {"datum": 6.75}}},
                {"data": {"values": [{}]}, "mark": {"type": "rect", "fill": "#ffffd0", "stroke": "#8c8c8c", "strokeWidth": 1}, "encoding": {"x": {"datum": -1252, "type": "quantitative"}, "x2": {"datum": -925}, "y": {"datum": 6.675, "type": "quantitative"}, "y2": {"datum": 6.15}}},
                {"data": {"values": [{}]}, "mark": {"type": "point", "shape": "triangle-down", "size": 70, "filled": true, "color": "#000000"}, "encoding": {"x": {"datum": -1089, "type": "quantitative"}, "y": {"datum": 7.025, "type": "quantitative"}}},
                {"data": {"values": [{}]}, "mark": {"type": "point", "shape": "triangle-down", "size": 70, "filled": true, "color": "#000000"}, "encoding": {"x": {"datum": -1089, "type": "quantitative"}, "y": {"datum": 6.425, "type": "quantitative"}}},
                {"data": {"values": [{}]}, "mark": {"type": "rect", "fill": "#ffffff", "stroke": "#8a8a8a", "strokeWidth": 1}, "encoding": {"x": {"datum": 0, "type": "quantitative"}, "x2": {"datum": 8016}, "y": {"datum": -1, "type": "quantitative"}, "y2": {"datum": 7}}},
                {"data": {"name": "gx"}, "mark": {"type": "rule", "color": "#c4c4c4", "strokeWidth": 1}, "encoding": {"x": {"field": "g", "type": "quantitative"}}},
                {"data": {"name": "gy_k"}, "mark": {"type": "rule", "color": "#c4c4c4", "strokeWidth": 1}, "encoding": {"y": {"field": "g", "type": "quantitative"}}},
                {"data": {"name": "k"}, "mark": {"type": "line", "color": "#000000", "strokeWidth": 1.2},
                 "encoding": {
                   "x": {"field": "t", "type": "quantitative", "scale": {"domain": [0, 8016], "nice": false, "zero": false}, "axis": {"title": null, "zindex": 1, "tickCount": 100, "labelOverlap": false, "values": [0,1000,2000,3000,4000,5000,6000,7000,8016], "labelExpr": "datum.value >= 8016 ? '8016.' : format(datum.value, '.1f')"}},
                   "y": {"field": "v", "type": "quantitative", "scale": {"domain": [-1, 7], "nice": false, "zero": false}, "axis": {"title": null, "zindex": 1, "tickCount": 100, "labelOverlap": false, "values": [7,6,5,4,3,2,1,0,-1], "labelExpr": "(datum.value < 0 ? '-' : '') + format(abs(datum.value), '.2f') + 'E+0'"}}
                 }},
                {"data": {"name": "k"}, "transform": [{"filter": "datum.step != null"}], "mark": {"type": "line", "color": "#000000", "strokeWidth": 3.5}, "encoding": {"x": {"field": "t", "type": "quantitative"}, "y": {"field": "v", "type": "quantitative"}, "detail": {"field": "step", "type": "nominal"}}},
                {"data": {"name": "k"}, "transform": [{"filter": "datum.step == null"}], "mark": {"type": "square", "size": 18, "color": "#000000", "opacity": 1}, "encoding": {"x": {"field": "t", "type": "quantitative"}, "y": {"field": "v", "type": "quantitative"}}}
              ]
            },
            {
              "width": 582,
              "height": 320,
              "layer": [
                {"data": {"values": [{}]}, "mark": {"type": "rect", "fill": "#ffffd0"}, "encoding": {"x": {"datum": -978, "type": "quantitative"}, "x2": {"datum": 8223}, "y": {"datum": 213.125, "type": "quantitative"}, "y2": {"datum": -104.5}}},
                {"data": {"values": [{}]}, "mark": {"type": "rect", "fill": "#ffffd0", "stroke": "#8c8c8c", "strokeWidth": 1}, "encoding": {"x": {"datum": 2259, "type": "quantitative"}, "x2": {"datum": 6528}, "y": {"datum": 240.25, "type": "quantitative"}, "y2": {"datum": 216.625}}},
                {"data": {"values": [{}]}, "mark": {"type": "text", "text": "Ipc [nA] (bkg substracted)", "fontSize": 21, "color": "#0000ff", "align": "center", "baseline": "middle"}, "encoding": {"x": {"datum": 4242, "type": "quantitative"}, "y": {"datum": 228, "type": "quantitative"}}},
                {"data": {"values": [{}]}, "mark": {"type": "point", "shape": "triangle-down", "size": 55, "filled": true, "color": "#0000ff"}, "encoding": {"x": {"datum": 6363, "type": "quantitative"}, "y": {"datum": 227.125, "type": "quantitative"}}},
                {"data": {"values": [{}]}, "mark": {"type": "rect", "fill": "#ffffd0", "stroke": "#8c8c8c", "strokeWidth": 1}, "encoding": {"x": {"datum": 8250, "type": "quantitative"}, "x2": {"datum": 8553}, "y": {"datum": 209.625, "type": "quantitative"}, "y2": {"datum": 191.25}}},
                {"data": {"values": [{}]}, "mark": {"type": "rect", "fill": "#ffffd0", "stroke": "#8c8c8c", "strokeWidth": 1}, "encoding": {"x": {"datum": 8250, "type": "quantitative"}, "x2": {"datum": 8553}, "y": {"datum": 188.625, "type": "quantitative"}, "y2": {"datum": 170.25}}},
                {"data": {"values": [{}]}, "mark": {"type": "point", "shape": "triangle-down", "size": 70, "filled": true, "color": "#000000"}, "encoding": {"x": {"datum": 8402, "type": "quantitative"}, "y": {"datum": 200.875, "type": "quantitative"}}},
                {"data": {"values": [{}]}, "mark": {"type": "point", "shape": "triangle-down", "size": 70, "filled": true, "color": "#000000"}, "encoding": {"x": {"datum": 8402, "type": "quantitative"}, "y": {"datum": 179.875, "type": "quantitative"}}},
                {"data": {"values": [{}]}, "mark": {"type": "rect", "fill": "#ffffff", "stroke": "#8a8a8a", "strokeWidth": 1}, "encoding": {"x": {"datum": 0, "type": "quantitative"}, "x2": {"datum": 8016}, "y": {"datum": -80, "type": "quantitative"}, "y2": {"datum": 200}}},
                {"data": {"name": "gx"}, "mark": {"type": "rule", "color": "#c4c4c4", "strokeWidth": 1}, "encoding": {"x": {"field": "g", "type": "quantitative"}}},
                {"data": {"name": "gy_ipc"}, "mark": {"type": "rule", "color": "#c4c4c4", "strokeWidth": 1}, "encoding": {"y": {"field": "g", "type": "quantitative"}}},
                {"data": {"name": "ipc"}, "mark": {"type": "line", "color": "#000000", "strokeWidth": 1.2},
                 "encoding": {
                   "x": {"field": "t", "type": "quantitative", "scale": {"domain": [0, 8016], "nice": false, "zero": false}, "axis": {"title": null, "zindex": 1, "tickCount": 100, "labelOverlap": false, "values": [0,1000,2000,3000,4000,5000,6000,7000,8016], "labelExpr": "datum.value >= 8016 ? '8016.' : format(datum.value, '.1f')"}},
                   "y": {"field": "v", "type": "quantitative", "scale": {"domain": [-80, 200], "nice": false, "zero": false}, "axis": {"title": null, "zindex": 1, "tickCount": 100, "labelOverlap": false, "values": [200,180,160,140,120,100,80,60,40,20,0,-20,-40,-60,-80], "labelExpr": "(datum.value < 0 ? '-' : '') + format(abs(datum.value), '.2f')"}}
                 }},
                {"data": {"name": "ipc"}, "transform": [{"filter": "datum.step != null"}], "mark": {"type": "line", "color": "#000000", "strokeWidth": 3.5}, "encoding": {"x": {"field": "t", "type": "quantitative"}, "y": {"field": "v", "type": "quantitative"}, "detail": {"field": "step", "type": "nominal"}}},
                {"data": {"name": "ipc"}, "transform": [{"filter": "datum.step == null"}], "mark": {"type": "square", "size": 18, "color": "#000000", "opacity": 1}, "encoding": {"x": {"field": "t", "type": "quantitative"}, "y": {"field": "v", "type": "quantitative"}}}
              ]
            }
          ]
        },
        {
          "spacing": 100,
          "bounds": "flush",
          "hconcat": [
            {
              "width": 589,
              "height": 320,
              "layer": [
                {"data": {"values": [{}]}, "mark": {"type": "rect", "fill": "#ffffd0"}, "encoding": {"x": {"datum": -898, "type": "quantitative"}, "x2": {"datum": 8220}, "y": {"datum": 6.85, "type": "quantitative"}, "y2": {"datum": -1.047}}},
                {"data": {"values": [{}]}, "mark": {"type": "rect", "fill": "#ffffd0", "stroke": "#8c8c8c", "strokeWidth": 1}, "encoding": {"x": {"datum": 1892, "type": "quantitative"}, "x2": {"datum": 6138}, "y": {"datum": 7.2, "type": "quantitative"}, "y2": {"datum": 6.5875}}},
                {"data": {"values": [{}]}, "mark": {"type": "text", "text": "Cs Current", "fontSize": 21, "color": "#0000ff", "align": "center", "baseline": "middle"}, "encoding": {"x": {"datum": 3865, "type": "quantitative"}, "y": {"datum": 6.872, "type": "quantitative"}}},
                {"data": {"values": [{}]}, "mark": {"type": "point", "shape": "triangle-down", "size": 55, "filled": true, "color": "#0000ff"}, "encoding": {"x": {"datum": 5961, "type": "quantitative"}, "y": {"datum": 6.85, "type": "quantitative"}}},
                {"data": {"values": [{}]}, "mark": {"type": "rect", "fill": "#ffffd0", "stroke": "#8c8c8c", "strokeWidth": 1}, "encoding": {"x": {"datum": -1252, "type": "quantitative"}, "x2": {"datum": -925}, "y": {"datum": 6.7625, "type": "quantitative"}, "y2": {"datum": 6.303}}},
                {"data": {"values": [{}]}, "mark": {"type": "rect", "fill": "#ffffd0", "stroke": "#8c8c8c", "strokeWidth": 1}, "encoding": {"x": {"datum": -1252, "type": "quantitative"}, "x2": {"datum": -925}, "y": {"datum": 6.2375, "type": "quantitative"}, "y2": {"datum": 5.778}}},
                {"data": {"values": [{}]}, "mark": {"type": "point", "shape": "triangle-down", "size": 70, "filled": true, "color": "#000000"}, "encoding": {"x": {"datum": -1089, "type": "quantitative"}, "y": {"datum": 6.544, "type": "quantitative"}}},
                {"data": {"values": [{}]}, "mark": {"type": "point", "shape": "triangle-down", "size": 70, "filled": true, "color": "#000000"}, "encoding": {"x": {"datum": -1089, "type": "quantitative"}, "y": {"datum": 6.019, "type": "quantitative"}}},
                {"data": {"values": [{}]}, "mark": {"type": "rect", "fill": "#ffffd0", "stroke": "#8c8c8c", "strokeWidth": 1}, "encoding": {"x": {"datum": 177, "type": "quantitative"}, "x2": {"datum": 15271}, "y": {"datum": -1.1125, "type": "quantitative"}, "y2": {"datum": -1.528}}},
                {"data": {"values": [{}]}, "mark": {"type": "point", "shape": "triangle-left", "size": 45, "filled": true, "color": "#0000ff"}, "encoding": {"x": {"datum": 313, "type": "quantitative"}, "y": {"datum": -1.309, "type": "quantitative"}}},
                {"data": {"values": [{}]}, "mark": {"type": "point", "shape": "triangle-right", "size": 45, "filled": true, "color": "#0000ff"}, "encoding": {"x": {"datum": 15093, "type": "quantitative"}, "y": {"datum": -1.309, "type": "quantitative"}}},
                {"data": {"values": [{}]}, "mark": {"type": "rect", "fill": "#0000ff"}, "encoding": {"x": {"datum": 9187, "type": "quantitative"}, "x2": {"datum": 9432}, "y": {"datum": -1.178, "type": "quantitative"}, "y2": {"datum": -1.462}}},
                {"data": {"values": [{}]}, "mark": {"type": "rect", "fill": "#ffffff"}, "encoding": {"x": {"datum": 9296, "type": "quantitative"}, "x2": {"datum": 9323}, "y": {"datum": -1.178, "type": "quantitative"}, "y2": {"datum": -1.462}}},
                {"data": {"values": [{}]}, "mark": {"type": "point", "shape": "triangle-up", "size": 14, "filled": true, "color": "#000000"}, "encoding": {"x": {"datum": 15407, "type": "quantitative"}, "y": {"datum": -1.2, "type": "quantitative"}}},
                {"data": {"values": [{}]}, "mark": {"type": "point", "shape": "triangle-down", "size": 14, "filled": true, "color": "#000000"}, "encoding": {"x": {"datum": 15407, "type": "quantitative"}, "y": {"datum": -1.419, "type": "quantitative"}}},
                {"data": {"values": [{}]}, "mark": {"type": "rect", "fill": "#ffffd0", "stroke": "#8c8c8c", "strokeWidth": 1}, "encoding": {"x": {"datum": 15502, "type": "quantitative"}, "x2": {"datum": 16400}, "y": {"datum": -1.1125, "type": "quantitative"}, "y2": {"datum": -1.55}}},
                {"data": {"values": [{}]}, "mark": {"type": "text", "text": "0.3896", "fontSize": 14, "color": "#000000", "align": "left", "baseline": "middle"}, "encoding": {"x": {"datum": 15556, "type": "quantitative"}, "y": {"datum": -1.331, "type": "quantitative"}}},
                {"data": {"values": [{}]}, "mark": {"type": "rect", "fill": "#ffffff", "stroke": "#8a8a8a", "strokeWidth": 1}, "encoding": {"x": {"datum": 0, "type": "quantitative"}, "x2": {"datum": 8016}, "y": {"datum": -0.5, "type": "quantitative"}, "y2": {"datum": 6.5}}},
                {"data": {"name": "gx"}, "mark": {"type": "rule", "color": "#c4c4c4", "strokeWidth": 1}, "encoding": {"x": {"field": "g", "type": "quantitative"}}},
                {"data": {"name": "gy_cs"}, "mark": {"type": "rule", "color": "#c4c4c4", "strokeWidth": 1}, "encoding": {"y": {"field": "g", "type": "quantitative"}}},
                {"data": {"name": "cs"}, "mark": {"type": "line", "color": "#000000", "strokeWidth": 1.2},
                 "encoding": {
                   "x": {"field": "t", "type": "quantitative", "scale": {"domain": [0, 8016], "nice": false, "zero": false}, "axis": {"title": null, "zindex": 1, "tickCount": 100, "labelOverlap": false, "values": [0,1000,2000,3000,4000,5000,6000,7000,8016], "labelExpr": "datum.value >= 8016 ? '8016.' : format(datum.value, '.1f')"}},
                   "y": {"field": "v", "type": "quantitative", "scale": {"domain": [-0.5, 6.5], "nice": false, "zero": false}, "axis": {"title": null, "zindex": 1, "tickCount": 100, "labelOverlap": false, "values": [6.5,6,5.5,5,4.5,4,3.5,3,2.5,2,1.5,1,0.5,0,-0.5], "labelExpr": "(datum.value < 0 ? '-' : '') + format(abs(datum.value), '.2f')"}}
                 }},
                {"data": {"name": "cs"}, "transform": [{"filter": "datum.step != null"}], "mark": {"type": "line", "color": "#000000", "strokeWidth": 3.5}, "encoding": {"x": {"field": "t", "type": "quantitative"}, "y": {"field": "v", "type": "quantitative"}, "detail": {"field": "step", "type": "nominal"}}},
                {"data": {"name": "cs"}, "transform": [{"filter": "datum.step == null"}], "mark": {"type": "square", "size": 18, "color": "#000000", "opacity": 1}, "encoding": {"x": {"field": "t", "type": "quantitative"}, "y": {"field": "v", "type": "quantitative"}}}
              ]
            },
            {
              "width": 582,
              "height": 320,
              "layer": [
                {"data": {"values": [{}]}, "mark": {"type": "rect", "fill": "#ffffd0"}, "encoding": {"x": {"datum": -978, "type": "quantitative"}, "x2": {"datum": 8223}, "y": {"datum": 6.275e-8, "type": "quantitative"}, "y2": {"datum": 7.03e-10}}},
                {"data": {"values": [{}]}, "mark": {"type": "rect", "fill": "#ffffd0", "stroke": "#8c8c8c", "strokeWidth": 1}, "encoding": {"x": {"datum": 2025, "type": "quantitative"}, "x2": {"datum": 6294}, "y": {"datum": 6.4984e-8, "type": "quantitative"}, "y2": {"datum": 6.0172e-8}}},
                {"data": {"values": [{}]}, "mark": {"type": "text", "text": "Tank Pressure", "fontSize": 21, "color": "#0000ff", "align": "center", "baseline": "middle"}, "encoding": {"x": {"datum": 4022, "type": "quantitative"}, "y": {"datum": 6.2578e-8, "type": "quantitative"}}},
                {"data": {"values": [{}]}, "mark": {"type": "point", "shape": "triangle-down", "size": 55, "filled": true, "color": "#0000ff"}, "encoding": {"x": {"datum": 6157, "type": "quantitative"}, "y": {"datum": 6.2578e-8, "type": "quantitative"}}},
                {"data": {"values": [{}]}, "mark": {"type": "point", "shape": "triangle-up", "size": 14, "filled": true, "color": "#000000"}, "encoding": {"x": {"datum": 7052, "type": "quantitative"}, "y": {"datum": 6.395e-8, "type": "quantitative"}}},
                {"data": {"values": [{}]}, "mark": {"type": "point", "shape": "triangle-down", "size": 14, "filled": true, "color": "#000000"}, "encoding": {"x": {"datum": 7052, "type": "quantitative"}, "y": {"datum": 6.206e-8, "type": "quantitative"}}},
                {"data": {"values": [{}]}, "mark": {"type": "rect", "fill": "#ffffd0", "stroke": "#8c8c8c", "strokeWidth": 1}, "encoding": {"x": {"datum": 7203, "type": "quantitative"}, "x2": {"datum": 8195}, "y": {"datum": 6.4813e-8, "type": "quantitative"}, "y2": {"datum": 6.1203e-8}}},
                {"data": {"values": [{}]}, "mark": {"type": "text", "text": "Seconds", "fontSize": 14, "color": "#000000", "align": "center", "baseline": "middle"}, "encoding": {"x": {"datum": 7699, "type": "quantitative"}, "y": {"datum": 6.3094e-8, "type": "quantitative"}}},
                {"data": {"values": [{}]}, "mark": {"type": "rect", "fill": "#ffffd0", "stroke": "#8c8c8c", "strokeWidth": 1}, "encoding": {"x": {"datum": 8250, "type": "quantitative"}, "x2": {"datum": 8553}, "y": {"datum": 6.2063e-8, "type": "quantitative"}, "y2": {"datum": 5.8453e-8}}},
                {"data": {"values": [{}]}, "mark": {"type": "rect", "fill": "#ffffd0", "stroke": "#8c8c8c", "strokeWidth": 1}, "encoding": {"x": {"datum": 8250, "type": "quantitative"}, "x2": {"datum": 8553}, "y": {"datum": 5.7938e-8, "type": "quantitative"}, "y2": {"datum": 5.4328e-8}}},
                {"data": {"values": [{}]}, "mark": {"type": "point", "shape": "triangle-down", "size": 70, "filled": true, "color": "#000000"}, "encoding": {"x": {"datum": 8402, "type": "quantitative"}, "y": {"datum": 6.0344e-8, "type": "quantitative"}}},
                {"data": {"values": [{}]}, "mark": {"type": "point", "shape": "triangle-down", "size": 70, "filled": true, "color": "#000000"}, "encoding": {"x": {"datum": 8402, "type": "quantitative"}, "y": {"datum": 5.6219e-8, "type": "quantitative"}}},
                {"data": {"values": [{}]}, "mark": {"type": "rect", "fill": "#ffffff", "stroke": "#8a8a8a", "strokeWidth": 1}, "encoding": {"x": {"datum": 0, "type": "quantitative"}, "x2": {"datum": 8016}, "y": {"datum": 5e-9, "type": "quantitative"}, "y2": {"datum": 6e-8}}},
                {"data": {"name": "gx"}, "mark": {"type": "rule", "color": "#c4c4c4", "strokeWidth": 1}, "encoding": {"x": {"field": "g", "type": "quantitative"}}},
                {"data": {"name": "gy_tank"}, "mark": {"type": "rule", "color": "#c4c4c4", "strokeWidth": 1}, "encoding": {"y": {"field": "g", "type": "quantitative"}}},
                {"data": {"name": "tank"}, "mark": {"type": "line", "color": "#000000", "strokeWidth": 1.2},
                 "encoding": {
                   "x": {"field": "t", "type": "quantitative", "scale": {"domain": [0, 8016], "nice": false, "zero": false}, "axis": {"title": null, "zindex": 1, "tickCount": 100, "labelOverlap": false, "values": [0,1000,2000,3000,4000,5000,6000,7000,8016], "labelExpr": "datum.value >= 8016 ? '8016.' : format(datum.value, '.1f')"}},
                   "y": {"field": "v", "type": "quantitative", "scale": {"domain": [5e-9, 6e-8], "nice": false, "zero": false}, "axis": {"title": null, "zindex": 1, "tickCount": 100, "labelOverlap": false, "values": [6e-8,5.5e-8,5e-8,4.5e-8,4e-8,3.5e-8,3e-8,2.5e-8,2e-8,1.5e-8,1e-8,5e-9], "labelExpr": "datum.value < 9.9e-9 ? format(datum.value * 1e9, '.2f') + 'E-9' : format(datum.value * 1e8, '.2f') + 'E-8'"}}
                 }},
                {"data": {"name": "tank"}, "transform": [{"filter": "datum.step != null"}], "mark": {"type": "line", "color": "#000000", "strokeWidth": 3.5}, "encoding": {"x": {"field": "t", "type": "quantitative"}, "y": {"field": "v", "type": "quantitative"}, "detail": {"field": "step", "type": "nominal"}}},
                {"data": {"name": "tank"}, "transform": [{"filter": "datum.step == null"}], "mark": {"type": "square", "size": 18, "color": "#000000", "opacity": 1}, "encoding": {"x": {"field": "t", "type": "quantitative"}, "y": {"field": "v", "type": "quantitative"}}}
              ]
            }
          ]
        }
      ]
    }
  ]
}
